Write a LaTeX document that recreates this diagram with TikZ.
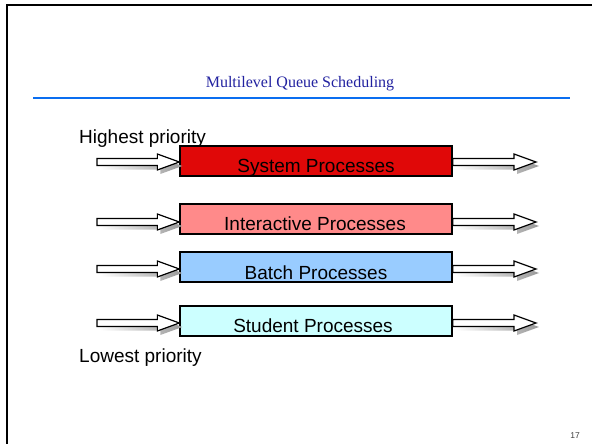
\documentclass[tikz,border=0pt]{standalone}
\usepackage{fontspec}
\setmainfont{Liberation Sans}
\newfontfamily\titlefont{Liberation Serif}
\usetikzlibrary{calc}
\definecolor{titleblue}{HTML}{2222A0}
\definecolor{rulebue}{HTML}{0A6EF0}
\definecolor{sysred}{HTML}{E00808}
\definecolor{intpink}{HTML}{FF8A8A}
\definecolor{batchblue}{HTML}{99CCFF}
\definecolor{studcyan}{HTML}{CCFFFF}
\tikzset{
  qbox/.style={draw=black, line width=1.3pt, minimum width=272pt, minimum height=30pt, inner sep=0pt},
  qtext/.style={anchor=base, font=\fontsize{19}{21}\selectfont, inner sep=0pt},
  sidetext/.style={anchor=base west, font=\fontsize{19}{21}\selectfont, inner sep=0pt},
  arrowline/.style={draw=black, line width=1.2pt, fill=white, line join=miter},
  arrowshadow/.style={left color=white, right color=black!40, draw=none},
}
\newcommand\hollowarrow[2]{%
  \path[arrowshadow] let \p1=(#1), \p2=(#2) in
    ($(\x1,\y1)+(3pt,-4pt)$) -- ++(0,3.5pt) -- ($(\x2-22pt,\y1+3.5pt)+(3pt,-4pt)$) -- ++(0,4.5pt)
    -- ($(\x2,\y1)+(3pt,-4pt)$) -- ($(\x2-22pt,\y1-8pt)+(3pt,-4pt)$) -- ++(0,4.5pt)
    -- ($(\x1,\y1-3.5pt)+(3pt,-4pt)$) -- cycle;
  \path[arrowline] let \p1=(#1), \p2=(#2) in
    (\x1,\y1+3.5pt) -- (\x2-22pt,\y1+3.5pt) -- (\x2-22pt,\y1+8pt)
    -- (\x2,\y1) -- (\x2-22pt,\y1-8pt) -- (\x2-22pt,\y1-3.5pt)
    -- (\x1,\y1-3.5pt) -- cycle;
}
\begin{document}
\begin{tikzpicture}[x=1pt,y=-1pt]
\useasboundingbox (0,0) rectangle (592,444);
% slide frame
\draw[line width=1.8pt] (7,444) -- (7,5) -- (592,5);
% title
\node[anchor=base, font=\titlefont\fontsize{16}{18}\selectfont, text=titleblue, inner sep=0pt] (title) at (300,88) {Multilevel Queue Scheduling};
\draw[rulebue, line width=2pt] (33,98) -- (570,98);
% side labels
\node[sidetext] (high) at (79,143) {Highest priority};
\node[sidetext] (low) at (79,362) {Lowest priority};
\node[anchor=base, font=\fontsize{8.5}{10}\selectfont, text=black!75, inner sep=0pt] (pnum) at (575,438) {17};
% boxes
\node[qbox, fill=sysred] (sys) at (316,161) {};
\node[qbox, fill=intpink] (int) at (316,219) {};
\node[qbox, fill=batchblue] (bat) at (316,267) {};
\node[qbox, fill=studcyan] (stu) at (316,321) {};
\node[qtext] (systxt) at (316,172) {System Processes};
\node[qtext] (inttxt) at (315,230) {Interactive Processes};
\node[qtext] (battxt) at (316,279) {Batch Processes};
\node[qtext] (stutxt) at (313,332) {Student Processes};
% arrow end points
\coordinate (sysin) at (97,162);   \coordinate (sysout) at (536,162);
\coordinate (intin) at (97,222);   \coordinate (intout) at (536,222);
\coordinate (batin) at (97,269);   \coordinate (batout) at (536,269);
\coordinate (stuin) at (97,323);   \coordinate (stuout) at (536,323);
\coordinate (sysw) at (sys.west |- sysin);  \coordinate (syse) at (sys.east |- sysin);
\coordinate (intw) at (int.west |- intin);  \coordinate (inte) at (int.east |- intin);
\coordinate (batw) at (bat.west |- batin);  \coordinate (bate) at (bat.east |- batin);
\coordinate (stuw) at (stu.west |- stuin);  \coordinate (stue) at (stu.east |- stuin);
\hollowarrow{sysin}{sysw} \hollowarrow{syse}{sysout}
\hollowarrow{intin}{intw} \hollowarrow{inte}{intout}
\hollowarrow{batin}{batw} \hollowarrow{bate}{batout}
\hollowarrow{stuin}{stuw} \hollowarrow{stue}{stuout}
\end{tikzpicture}
\end{document}
